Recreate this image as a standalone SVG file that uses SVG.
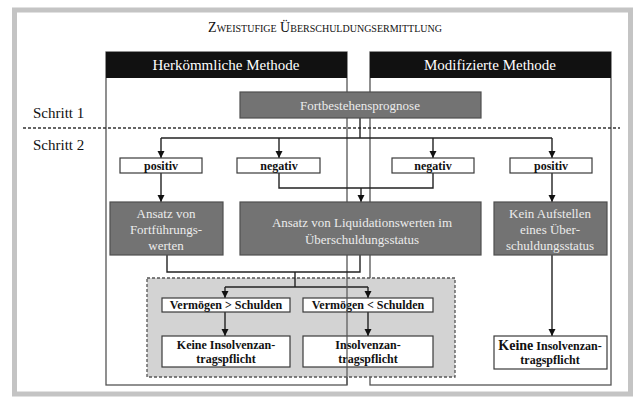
<svg xmlns="http://www.w3.org/2000/svg" width="635" height="397" viewBox="0 0 635 397">
<defs>
<marker id="ah" markerWidth="8" markerHeight="8" refX="7" refY="4" orient="auto" markerUnits="userSpaceOnUse">
<path d="M0,0.5 L7,4 L0,7.5 z" fill="#111"/>
</marker>
<style>
text{font-family:"Liberation Serif","Times New Roman",serif;}
.hdr{fill:#111;}
.hdrt{fill:#fff;font-size:15px;text-anchor:middle;}
.dark{fill:#737373;stroke:#4f4f4f;stroke-width:1.2;}
.darkt{fill:#ececec;font-size:13px;text-anchor:middle;}
.wb{fill:#fff;stroke:#3a3a3a;stroke-width:1.2;}
.wbt{fill:#111;font-size:12px;font-weight:bold;text-anchor:middle;}
.panel{fill:none;stroke:#555;stroke-width:1.3;}
.c{fill:none;stroke:#222;stroke-width:1.4;}
.ca{fill:none;stroke:#222;stroke-width:1.4;marker-end:url(#ah);}
.lbl{fill:#111;font-size:15px;}
</style>
</defs>
<rect x="0" y="0" width="635" height="397" fill="#fff"/>
<rect x="14.5" y="10" width="616" height="384" fill="#fff" stroke="#c4c4c4" stroke-width="5"/>

<g font-family="Liberation Serif, Times New Roman, serif">
<text x="325" y="32" font-size="14" text-anchor="middle" font-variant="small-caps" fill="#111">Zweistufige Überschuldungsermittlung</text>

<g id="panel-right">
<rect class="panel" x="370" y="52" width="241" height="333"/>
<rect class="hdr" x="370" y="52" width="241" height="26"/>
<text class="hdrt" x="490" y="70">Modifizierte Methode</text>
</g>
<g id="panel-left">
<rect class="panel" x="106" y="52" width="241" height="333"/>
<rect class="hdr" x="106" y="52" width="241" height="26"/>
<text class="hdrt" x="226" y="70">Herkömmliche Methode</text>
</g>

<g id="steps">
<text class="lbl" x="33" y="118">Schritt 1</text>
<text class="lbl" x="33" y="150">Schritt 2</text>
<line x1="23" y1="128" x2="620" y2="128" stroke="#333" stroke-width="1.3" stroke-dasharray="3,2"/>
</g>

<g id="shaded">
<rect x="147" y="278" width="308" height="99" fill="#d3d3d3" stroke="#555" stroke-width="1.3" stroke-dasharray="3,2"/>
</g>

<g id="connectors">
<polyline class="c" points="360,118 360,138"/>
<line class="c" x1="161" y1="138" x2="552" y2="138"/>
<line class="ca" x1="161" y1="138" x2="161" y2="158"/>
<line class="ca" x1="279" y1="138" x2="279" y2="158"/>
<line class="ca" x1="433" y1="138" x2="433" y2="158"/>
<line class="ca" x1="552" y1="138" x2="552" y2="158"/>
<polyline class="c" points="279,173 279,188 433,188 433,173"/>
<line class="ca" x1="361" y1="188" x2="361" y2="202"/>
<line class="ca" x1="161" y1="173" x2="161" y2="202"/>
<line class="ca" x1="552" y1="173" x2="552" y2="202"/>
<polyline class="c" points="167,255 167,272 360,272 360,255"/>
<line class="c" x1="295" y1="272" x2="295" y2="287"/>
<line class="c" x1="225" y1="287" x2="368" y2="287"/>
<line class="ca" x1="225" y1="287" x2="225" y2="298"/>
<line class="ca" x1="368" y1="287" x2="368" y2="298"/>
<line class="ca" x1="225" y1="312" x2="225" y2="336"/>
<line class="ca" x1="368" y1="312" x2="368" y2="336"/>
<line class="ca" x1="552" y1="255" x2="552" y2="336"/>
</g>

<g id="prognose">
<rect class="dark" x="240" y="92" width="241" height="26"/>
<text class="darkt" x="360" y="110" font-size="14">Fortbestehensprognose</text>
</g>

<g id="positiv-l"><rect class="wb" x="120" y="158" width="82" height="15"/><text class="wbt" x="161" y="170" font-size="11">positiv</text></g>
<g id="negativ-l"><rect class="wb" x="237" y="158" width="83" height="15"/><text class="wbt" x="279" y="170" font-size="11">negativ</text></g>
<g id="negativ-r"><rect class="wb" x="392" y="158" width="82" height="15"/><text class="wbt" x="433" y="170" font-size="11">negativ</text></g>
<g id="positiv-r"><rect class="wb" x="510" y="158" width="82" height="15"/><text class="wbt" x="551" y="170" font-size="11">positiv</text></g>

<g id="fortfuehrung">
<rect class="dark" x="110" y="202" width="113" height="53"/>
<text class="darkt" x="166" y="218">Ansatz von</text>
<text class="darkt" x="166" y="234">Fortführungs-</text>
<text class="darkt" x="166" y="250">werten</text>
</g>
<g id="liquidation">
<rect class="dark" x="240" y="202" width="241" height="53"/>
<text class="darkt" x="362" y="227">Ansatz von Liquidationswerten im</text>
<text class="darkt" x="362" y="244">Überschuldungsstatus</text>
</g>
<g id="kein-aufstellen">
<rect class="dark" x="494" y="202" width="113" height="53"/>
<text class="darkt" x="550" y="218">Kein Aufstellen</text>
<text class="darkt" x="550" y="234">eines Über-</text>
<text class="darkt" x="550" y="250">schuldungsstatus</text>
</g>

<g id="verm-gt"><rect class="wb" x="162" y="298" width="128" height="14"/><text class="wbt" x="226" y="309">Vermögen &gt; Schulden</text></g>
<g id="verm-lt"><rect class="wb" x="303" y="298" width="130" height="14"/><text class="wbt" x="368" y="309">Vermögen &lt; Schulden</text></g>
<g id="keine-l"><rect class="wb" x="162" y="336" width="128" height="31"/><text class="wbt" x="226" y="349">Keine Insolvenzan-</text><text class="wbt" x="226" y="363">tragspflicht</text></g>
<g id="insolv"><rect class="wb" x="303" y="336" width="130" height="31"/><text class="wbt" x="368" y="349">Insolvenzan-</text><text class="wbt" x="368" y="363">tragspflicht</text></g>
<g id="keine-r"><rect class="wb" x="494" y="336" width="113" height="33"/><text class="wbt" x="550" y="350"><tspan font-size="14">Keine</tspan> Insolvenzan-</text><text class="wbt" x="550" y="364">tragspflicht</text></g>

<line x1="347" y1="278" x2="347" y2="385" stroke="#555" stroke-width="1.2"/>
</g>
</svg>
